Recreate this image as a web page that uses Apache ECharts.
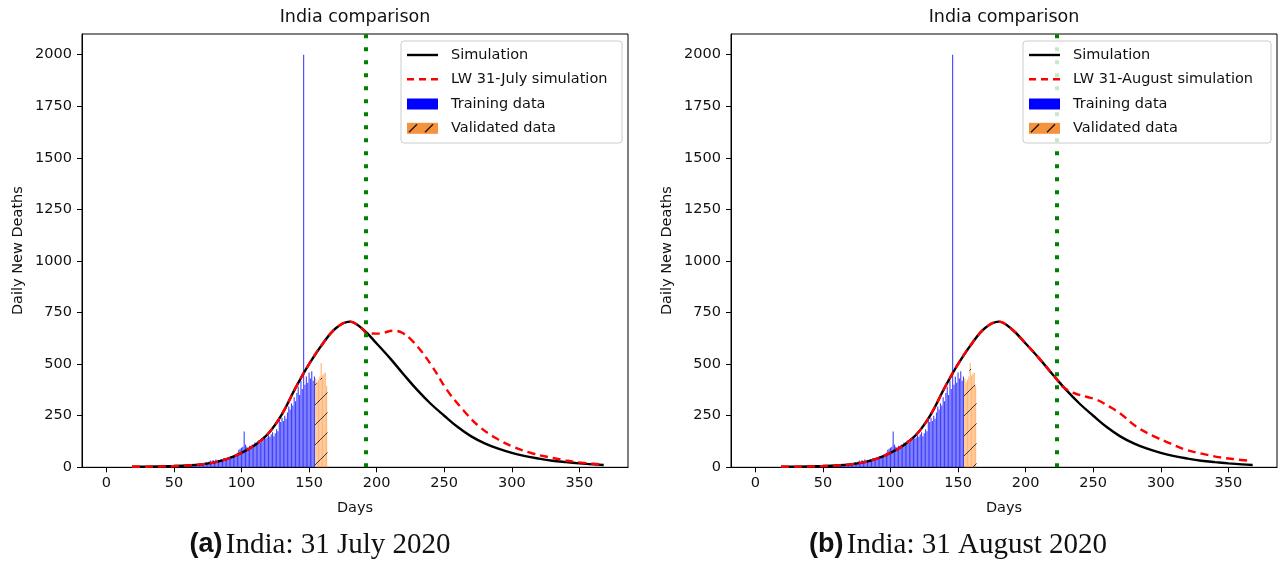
<!DOCTYPE html>
<html><head><meta charset="utf-8">
<script src="https://cdn.jsdelivr.net/npm/echarts@6/dist/echarts.min.js"></script>
<style>html,body{margin:0;padding:0;background:#fff}#c{width:1282px;height:562px}</style>
</head><body><div id="c"></div>
<script>
// ---- data ----
const xTicks = [0, 50, 100, 150, 200, 250, 300, 350];
const yTicks = [0, 250, 500, 750, 1000, 1250, 1500, 1750, 2000];

const simDays = [19, 30, 40, 50, 60, 70, 80, 90, 100, 110, 120, 130, 140, 150, 160, 170, 180, 190, 200, 210, 220, 230, 240, 250, 260, 270, 280, 290, 300, 310, 320, 330, 340, 350, 360, 368];
const simVals = [3, 3, 4, 6, 9, 14, 24, 42, 70, 108, 165, 258, 385, 500, 598, 675, 706, 668, 600, 528, 450, 375, 308, 250, 195, 150, 116, 90, 70, 54, 42, 32, 25, 19, 14, 11];

const julyCut = 192;
const lwJulyDays = [192, 200, 205, 212, 218, 227, 240, 252, 264, 276, 290, 301, 315, 326, 340, 350, 360, 368];
const lwJulyVals = [652, 648, 652, 662, 655, 609, 500, 375, 278, 197, 135, 100, 68, 51, 33, 24, 17, 13];

const augCut = 223;
const lwAugDays = [223, 226, 235, 245, 253, 262, 270, 282, 295, 307, 319, 332, 344, 356, 367];
const lwAugVals = [427, 398, 362, 342, 326, 294, 261, 197, 150, 116, 84, 64, 48, 38, 31];

const trainStart = 40;
const trainVals = [
  1, 0, 2, 1, 2, 3, 1, 2, 3, 4, 2, 3, 5, 4, 3, 6, 5, 4, 7, 6, 8, 7, 9, 8, 10, 9, 12, 10, 11, 14,
  12, 18, 14, 20, 26, 19, 28, 33, 25, 35,
  30, 38, 28, 36, 34, 40, 32, 45, 38, 42,
  48, 40, 52, 46, 55, 58, 50, 70, 85, 90,
  95, 100, 173, 110, 100, 88, 105, 95, 110, 100,
  120, 115, 125, 132, 118, 140, 135, 150, 140, 145,
  155, 148, 160, 170, 150, 165, 185, 175, 230, 220,
  240, 225, 250, 235, 265, 295, 280, 310, 300, 340,
  320, 360, 390, 350, 420, 380, 2000, 400, 440, 410,
  460, 430, 465, 420, 440
];
const validStart = 155;
const validVals = [430, 415, 425, 440, 505, 445, 455, 460, 395];

const panels = [
  { left: 82, cut: julyCut, lwDays: lwJulyDays, lwVals: lwJulyVals, lwName: 'LW 31-July simulation', tag: '(a)', caption: 'India: 31 July 2020', legW: 221 },
  { left: 731, cut: augCut, lwDays: lwAugDays, lwVals: lwAugVals, lwName: 'LW 31-August simulation', tag: '(b)', caption: 'India: 31 August 2020', legW: 248 }
];

const FONT = '"DejaVu Sans", sans-serif';
const GW = 546, GTOP = 34, GH = 433.3;

const simData = simDays.map((d, i) => [d, simVals[i]]);
const trainData = trainVals.map((v, i) => [trainStart + i, v]);
const validData = validVals.map((v, i) => [validStart + i, v]);

const grids = [], xAxes = [], yAxes = [], series = [], graphics = [];

panels.forEach((p, i) => {
  grids.push({ left: p.left, top: GTOP, width: GW, height: GH, show: true, borderColor: '#000', borderWidth: 1, containLabel: false });
  xAxes.push({
    type: 'value', gridIndex: i, min: -18, max: 386,
    axisLine: { show: true, onZero: false, lineStyle: { color: '#000', width: 1 } },
    axisTick: { show: true, length: 5, customValues: xTicks, lineStyle: { color: '#000', width: 1 } },
    axisLabel: { customValues: xTicks, margin: 8, fontFamily: FONT, fontSize: 14.5, color: '#111', formatter: v => String(v) },
    splitLine: { show: false },
    name: 'Days', nameLocation: 'middle', nameGap: 33,
    nameTextStyle: { fontFamily: FONT, fontSize: 14.5, color: '#111' }
  });
  yAxes.push({
    type: 'value', gridIndex: i, min: 0, max: 2100,
    axisLine: { show: true, onZero: false, lineStyle: { color: '#000', width: 1 } },
    axisTick: { show: true, length: 5, customValues: yTicks, lineStyle: { color: '#000', width: 1 } },
    axisLabel: { customValues: yTicks, margin: 10, fontFamily: FONT, fontSize: 14.5, color: '#111', formatter: v => String(v) },
    splitLine: { show: false },
    name: 'Daily New Deaths', nameLocation: 'middle', nameGap: 56, nameRotate: 90,
    nameTextStyle: { fontFamily: FONT, fontSize: 14.5, color: '#111' }
  });

  series.push({
    type: 'bar', name: 'Training data', xAxisIndex: i, yAxisIndex: i,
    data: trainData, barWidth: 1.1, itemStyle: { color: 'rgba(0,0,255,0.75)' }, z: 2
  });
  series.push({
    type: 'custom', name: 'Validated data', xAxisIndex: i, yAxisIndex: i, data: validData, z: 2,
    renderItem: function (params, api) {
      const d = api.value(0), v = api.value(1);
      const top = api.coord([d, v]), base = api.coord([d, 0]);
      const w = 1.15, x0 = top[0] - w / 2, x1 = top[0] + w / 2;
      const ch = [{ type: 'rect', shape: { x: x0, y: top[1], width: w, height: base[1] - top[1] }, style: { fill: 'rgba(255,135,30,0.6)' } }];
      const sp = 20;
      for (let c = Math.ceil((x0 + top[1] + 6) / sp) * sp; c <= x1 + base[1]; c += sp) {
        const xa = Math.max(x0, c - base[1]), xb = Math.min(x1, c - top[1]);
        if (xb > xa) ch.push({ type: 'line', shape: { x1: xa - 0.3, y1: c - xa + 0.3, x2: xb + 0.3, y2: c - xb - 0.3 }, style: { stroke: '#333', lineWidth: 1 } });
      }
      return { type: 'group', children: ch };
    }
  });
  series.push({
    type: 'line', name: 'Simulation', xAxisIndex: i, yAxisIndex: i, data: simData,
    smooth: 0.4, symbol: 'none', lineStyle: { color: '#000', width: 2.4 }, z: 3
  });
  const lwData = simData.filter(pt => pt[0] < p.cut).concat(p.lwDays.map((d, k) => [d, p.lwVals[k]]));
  series.push({
    type: 'line', name: p.lwName, xAxisIndex: i, yAxisIndex: i, data: lwData,
    smooth: 0.4, symbol: 'none', lineStyle: { color: '#ff0000', width: 2.4, type: [8, 5] }, z: 4,
    markLine: {
      silent: true, symbol: ['none', 'none'], label: { show: false },
      lineStyle: { color: '#008000', width: 4, type: [4, 9] },
      data: [{ xAxis: p.cut }], z: 5
    }
  });

  // title
  const cx = p.left + GW / 2;
  graphics.push({ type: 'text', x: cx, y: 17, z: 100, style: { text: 'India comparison', font: '17.5px ' + FONT, fill: '#111', textAlign: 'center', textVerticalAlign: 'middle' } });
  // caption
  graphics.push({
    type: 'text', x: i === 0 ? 320 : 958, y: 545, z: 100,
    style: {
      text: '{b|' + p.tag + '} {s|' + p.caption + '}', textAlign: 'center', textVerticalAlign: 'middle',
      rich: {
        b: { fontFamily: '"Liberation Sans", Arial, sans-serif', fontWeight: 'bold', fontSize: 27, fill: '#111' },
        s: { fontFamily: '"Liberation Serif", "Times New Roman", serif', fontSize: 29, fill: '#111' }
      }
    }
  });
  // legend
  const R = p.left + GW - 6, Lb = R - p.legW, T = 41;
  const rows = [55, 79.3, 104, 128.3];
  const leg = [
    { type: 'rect', shape: { x: Lb, y: T, width: p.legW, height: 102, r: 3 }, style: { fill: 'rgba(255,255,255,0.8)', stroke: '#cccccc', lineWidth: 1 } },
    { type: 'line', shape: { x1: Lb + 6, y1: rows[0], x2: Lb + 37, y2: rows[0] }, style: { stroke: '#000', lineWidth: 2.4 } },
    { type: 'line', shape: { x1: Lb + 6, y1: rows[1], x2: Lb + 37, y2: rows[1] }, style: { stroke: '#ff0000', lineWidth: 2.4, lineDash: [7, 5] } },
    { type: 'rect', shape: { x: Lb + 6, y: rows[2] - 5.5, width: 31, height: 11 }, style: { fill: '#0000ff' } },
    { type: 'rect', shape: { x: Lb + 6, y: rows[3] - 5.5, width: 31, height: 11 }, style: { fill: '#f7923c' } },
    { type: 'line', shape: { x1: Lb + 8, y1: rows[3] + 4, x2: Lb + 16, y2: rows[3] - 4 }, style: { stroke: '#111', lineWidth: 1.3 } },
    { type: 'line', shape: { x1: Lb + 24, y1: rows[3] + 4, x2: Lb + 32, y2: rows[3] - 4 }, style: { stroke: '#111', lineWidth: 1.3 } }
  ];
  const names = ['Simulation', p.lwName, 'Training data', 'Validated data'];
  names.forEach((n, k) => leg.push({ type: 'text', x: Lb + 50, y: rows[k], style: { text: n, font: '14.5px ' + FONT, fill: '#111', textAlign: 'left', textVerticalAlign: 'middle' } }));
  leg.forEach(e => { e.z = 90; graphics.push(e); });
});

const chart = echarts.init(document.getElementById('c'), null, { renderer: 'canvas' });
chart.setOption({
  animation: false,
  backgroundColor: '#ffffff',
  grid: grids, xAxis: xAxes, yAxis: yAxes, series: series,
  graphic: { elements: graphics }
});
</script></body></html>
